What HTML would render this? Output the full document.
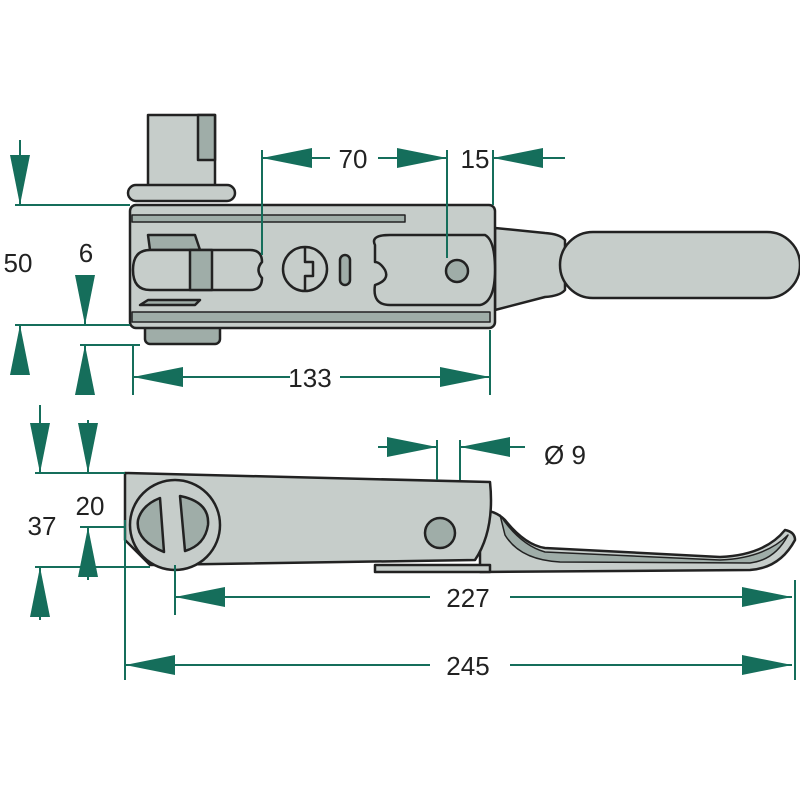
<!DOCTYPE html>
<html><head><style>body{margin:0;background:#fff}svg{display:block}</style></head><body>
<svg width="800" height="800" viewBox="0 0 800 800" xmlns="http://www.w3.org/2000/svg" font-family="Liberation Sans, sans-serif">
<defs>
<marker id="a" viewBox="0 0 50 20" refX="50" refY="10" markerWidth="50" markerHeight="20" markerUnits="userSpaceOnUse" orient="auto"><path d="M0,0 L50,10 L0,20 Z" fill="#156e5b"/></marker>
</defs>
<g stroke="#222" stroke-width="2.5" stroke-linejoin="round">
<!-- top part -->
<rect x="148" y="115" width="67" height="75" fill="#c6cdca"/>
<path d="M198,115 h17 v45 h-17 z" fill="#9fada8"/>
<rect x="128" y="185" width="107" height="16" rx="8" fill="#c6cdca"/>
<rect x="145" y="322" width="75" height="22" rx="5" fill="#9fada8"/>
<path d="M495,228 L545,233 Q560,234 565,240 L565,290 Q560,296 545,297 L495,310 Z" fill="#c6cdca"/>
<rect x="560" y="232" width="240" height="66" rx="33" fill="#c6cdca"/>
<rect x="130" y="205" width="365" height="123" rx="6" fill="#c6cdca"/>
<path d="M132,215 L405,215 L405,222 L132,222 Z" fill="#9fada8" stroke-width="1.5"/>
<path d="M132,312 L490,312 L490,322 L132,322 Z" fill="#9fada8" stroke-width="1.5"/>
<path d="M148,235 L195,235 L200,250 L150,250 Z M148,300 L200,300 L195,305 L140,305 Z" fill="#9fada8"/>
<path d="M150,250 H250 Q262,250 262,262 Q255,270 262,278 Q262,290 250,290 H150 Q133,290 133,270 Q133,250 150,250 Z" fill="#c6cdca"/>
<rect x="190" y="250" width="22" height="40" fill="#9fada8"/>
<circle cx="305" cy="269" r="22" fill="#c6cdca"/>
<path d="M305,247 V262 H313 V276 H305 V291" fill="none"/>
<rect x="340" y="255" width="10" height="30" rx="5" fill="#9fada8"/>
<path d="M375,245 Q370,235 390,235 L485,235 Q495,240 495,270 Q495,302 480,305 L390,305 Q372,305 375,285 Q390,280 385,270 Q380,262 375,262 Z" fill="#c6cdca"/>
<circle cx="457" cy="271" r="11" fill="#9fada8"/>
<!-- bottom part -->
<path d="M480,510 Q495,510 505,520 Q525,545 545,548 L720,557 Q765,555 785,530 Q795,532 795,540 Q780,568 750,570 L480,572 Z" fill="#c6cdca"/>
<path d="M500,515 Q520,545 545,552 L720,560 Q765,558 788,535 Q775,560 750,563 L560,562 Q520,560 505,535 Z" fill="#9fada8" stroke-width="1.5"/>
<path d="M375,565 H490 V572 H375 Z" fill="#c6cdca"/>
<path d="M125,473 L490,482 Q495,530 475,560 L150,565 L125,540 Z" fill="#c6cdca"/>
<circle cx="175" cy="525" r="45" fill="#c6cdca"/>
<path d="M160,498 L164,552 Q135,540 138,520 Q142,505 160,498 Z M180,496 Q210,502 208,525 Q205,545 185,551 Z" fill="#9fada8"/>
<circle cx="440" cy="533" r="15" fill="#9fada8"/>
</g>
<!-- dimensions -->
<g stroke="#156e5b" stroke-width="2" fill="none">
<path d="M15,205 H130 M15,325 H130 M80,345 H140 M133,345 V395 M490,330 V395 M262,150 V255 M447,150 V258 M493,150 V205"/>
<path d="M20,140 V205" marker-end="url(#a)"/><path d="M20,360 V325" marker-end="url(#a)"/>
<path d="M85,280 V325" marker-end="url(#a)"/><path d="M85,390 V345" marker-end="url(#a)"/>
<path d="M290,377 H133" marker-end="url(#a)"/><path d="M340,377 H490" marker-end="url(#a)"/>
<path d="M330,158 H262" marker-end="url(#a)"/><path d="M378,158 H447" marker-end="url(#a)"/>
<path d="M565,158 H493" marker-end="url(#a)"/>
<path d="M35,473 H125 M35,567 H150 M80,527 H125 M437,440 V480 M460,440 V480 M175,565 V615 M125,520 V680 M795,580 V680"/>
<path d="M40,405 V473" marker-end="url(#a)"/><path d="M40,620 V567" marker-end="url(#a)"/>
<path d="M88,420 V473" marker-end="url(#a)"/><path d="M88,580 V527" marker-end="url(#a)"/>
<path d="M378,447 H437" marker-end="url(#a)"/><path d="M525,447 H460" marker-end="url(#a)"/>
<path d="M430,597 H175" marker-end="url(#a)"/><path d="M510,597 H792" marker-end="url(#a)"/>
<path d="M430,665 H125" marker-end="url(#a)"/><path d="M510,665 H792" marker-end="url(#a)"/>
</g>
<g font-size="26" fill="#222" text-anchor="middle">
<text x="18" y="272">50</text><text x="86" y="262">6</text>
<text x="310" y="387">133</text><text x="353" y="168">70</text><text x="475" y="168">15</text>
<text x="42" y="535">37</text><text x="90" y="515">20</text>
<text x="565" y="464">Ø 9</text><text x="468" y="607">227</text><text x="468" y="675">245</text>
</g>
</svg>
</body></html>
